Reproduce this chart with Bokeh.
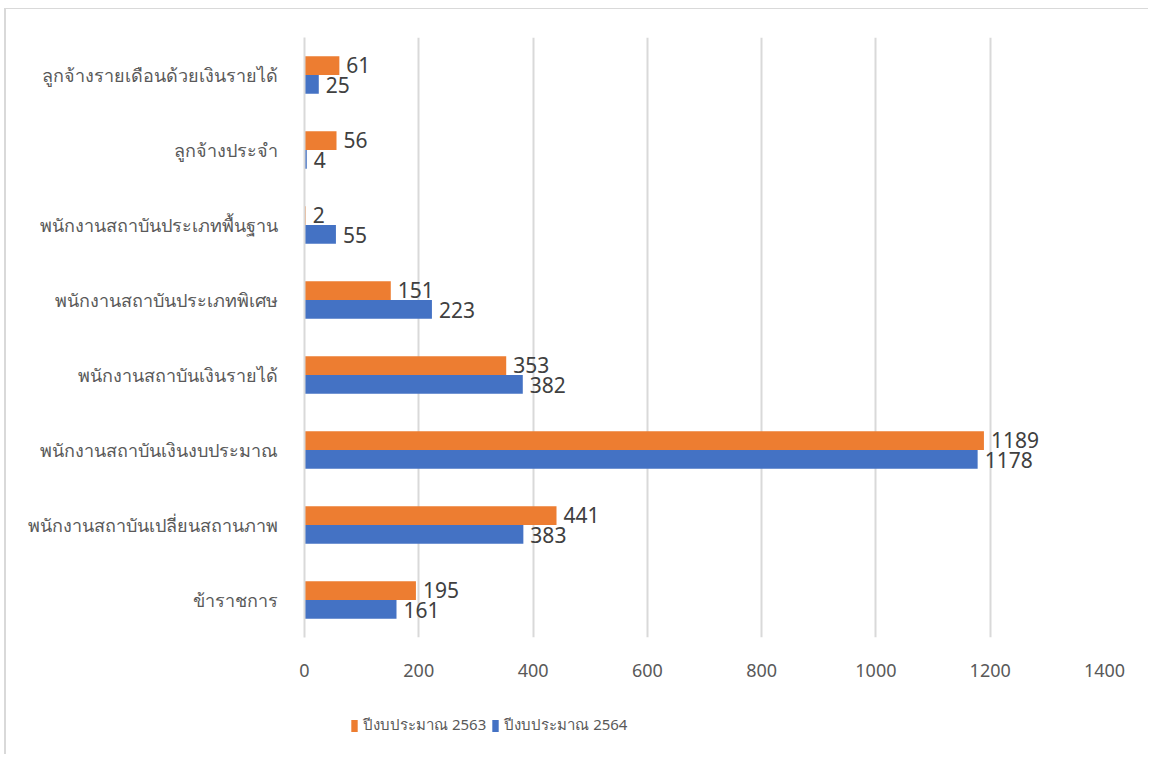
from bokeh.plotting import figure
from bokeh.layouts import column
from bokeh.models import ColumnDataSource, FactorRange, Legend, LegendItem, Range1d
from bokeh.transform import dodge
from bokeh.core.properties import value
from bokeh.embed import file_html
from bokeh.resources import INLINE

categories = [
    "ข้าราชการ",
    "พนักงานสถาบันเปลี่ยนสถานภาพ",
    "พนักงานสถาบันเงินงบประมาณ",
    "พนักงานสถาบันเงินรายได้",
    "พนักงานสถาบันประเภทพิเศษ",
    "พนักงานสถาบันประเภทพื้นฐาน",
    "ลูกจ้างประจำ",
    "ลูกจ้างรายเดือนด้วยเงินรายได้",
]
budget_2563 = [195, 441, 1189, 353, 151, 2, 56, 61]
budget_2564 = [161, 383, 1178, 382, 223, 55, 4, 25]
series_names = ["ปีงบประมาณ 2563", "ปีงบประมาณ 2564"]
x_ticks = [0, 200, 400, 600, 800, 1000, 1200, 1400]

ORANGE = "#ED7D31"
BLUE = "#4472C4"

src = ColumnDataSource(dict(
    cat=categories,
    v63=budget_2563,
    v64=budget_2564,
    l63=[str(v) for v in budget_2563],
    l64=[str(v) for v in budget_2564],
))

W = 1142
p = figure(
    width=W, height=688,
    y_range=FactorRange(*categories),
    x_range=(0, 1400),
    output_backend="svg", toolbar_location=None,
    min_border_left=298, min_border_right=W - 298 - 800,
    min_border_top=28, min_border_bottom=60,
)
p.outline_line_color = None
p.y_range.range_padding = 0

p.hbar(y=dodge("cat", 0.125, range=p.y_range), left=0, right="v63", height=0.25,
       source=src, fill_color=ORANGE, line_color=None)
p.hbar(y=dodge("cat", -0.125, range=p.y_range), left=0, right="v64", height=0.25,
       source=src, fill_color=BLUE, line_color=None)

lbl_font = value("Noto Sans")
p.text(x="v63", y=dodge("cat", 0.13, range=p.y_range), text="l63", source=src,
       x_offset=7, text_baseline="middle", text_font=lbl_font,
       text_font_size="21px", text_color="#404040")
p.text(x="v64", y=dodge("cat", -0.13, range=p.y_range), text="l64", source=src,
       x_offset=7, text_baseline="middle", text_font=lbl_font,
       text_font_size="21px", text_color="#404040")

# x axis
p.xaxis.ticker = x_ticks
p.xaxis.axis_line_color = None
p.xaxis.major_tick_line_color = None
p.xaxis.minor_tick_line_color = None
p.xaxis.major_label_text_font = "Noto Sans"
p.xaxis.major_label_text_font_size = "18px"
p.xaxis.major_label_text_color = "#595959"
p.xaxis.major_label_standoff = 20

# y axis
p.yaxis.axis_line_color = "#d9d9d9"
p.yaxis.axis_line_width = 2
p.yaxis.major_tick_line_color = None
p.yaxis.minor_tick_line_color = None
p.yaxis.major_label_text_font = "Noto Sans"
p.yaxis.major_label_text_font_size = "18px"
p.yaxis.major_label_text_color = "#595959"
p.yaxis.major_label_standoff = 21

p.xgrid.grid_line_color = "#d9d9d9"
p.xgrid.grid_line_width = 2
p.ygrid.grid_line_color = None

# legend strip below the chart (renderers hidden; only their legend swatches show)
lg = figure(width=W, height=57, x_range=Range1d(0, 1400),
            y_range=FactorRange(*categories),
            output_backend="svg", toolbar_location=None,
            min_border_left=298, min_border_right=W - 298 - 800,
            min_border_top=0, min_border_bottom=0)
lg.axis.visible = False
lg.grid.grid_line_color = None
lg.outline_line_color = None
e63 = lg.hbar(y="cat", left=0, right="v63", height=0.25, source=src,
              fill_color=ORANGE, line_color=None, visible=False)
e64 = lg.hbar(y="cat", left=0, right="v64", height=0.25, source=src,
              fill_color=BLUE, line_color=None, visible=False)

legend = Legend(
    items=[LegendItem(label=series_names[0], renderers=[e63]),
           LegendItem(label=series_names[1], renderers=[e64])],
    orientation="horizontal",
    location=(46, 17),
    glyph_width=8, glyph_height=15,
    label_text_font="Noto Sans", label_text_font_size="15px",
    label_text_color="#595959",
    spacing=5, padding=0, margin=0, label_standoff=5,
    border_line_color=None, background_fill_alpha=0,
    click_policy="none",
)
lg.add_layout(legend, "center")

layout = column(p, lg, spacing=0, margin=(8, 0, 0, 4),
                styles={"border-top": "1px solid #d9d9d9",
                        "border-left": "2px solid #d9d9d9"})
open("out.html", "w").write(file_html(layout, INLINE))
